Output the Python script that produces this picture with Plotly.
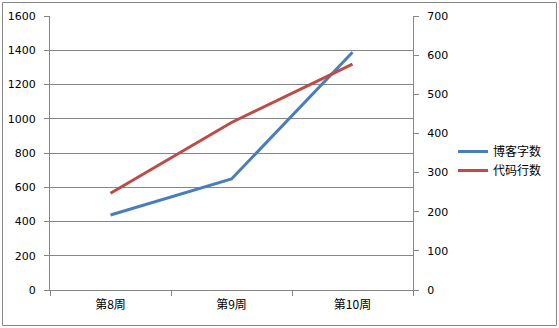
import plotly.graph_objects as go

categories = ["第8周", "第9周", "第10周"]
blog_words = [438, 648, 1388]
code_lines = [247, 428, 577]
left_ticks = [0, 200, 400, 600, 800, 1000, 1200, 1400, 1600]
right_ticks = [0, 100, 200, 300, 400, 500, 600, 700]

W, H = 559, 328
L, R, T, B = 50, 413, 16, 290
ml, mr, mt, mb = L, W - R, T, H - B
pw, ph = R - L, B - T

def px(x):
    return (x - L) / pw

def py(y):
    return (B - y) / ph

fig = go.Figure()
fig.add_trace(go.Scatter(x=categories, y=blog_words, name="博客字数", mode="lines",
                         line=dict(color="#4A7EBB", width=3), yaxis="y"))
fig.add_trace(go.Scatter(x=categories, y=code_lines, name="代码行数", mode="lines",
                         line=dict(color="#BE4B48", width=3), yaxis="y2"))

axis_font = dict(family="DejaVu Sans, Verdana, sans-serif", size=11, color="#000000")
grid = "#868686"

fig.update_layout(
    width=W, height=H,
    margin=dict(l=ml, r=mr, t=mt, b=mb, pad=0, autoexpand=False),
    paper_bgcolor="white", plot_bgcolor="white",
    showlegend=True,
    legend=dict(x=px(453), y=py(161), xanchor="left", yanchor="middle",
                font=dict(family="Noto Sans CJK SC", size=12, color="#000"),
                tracegroupgap=4, itemwidth=30, bgcolor="rgba(0,0,0,0)"),
    xaxis=dict(type="category", range=[-0.5, 2.5], showgrid=False, automargin=False,
               showline=True, linecolor=grid, linewidth=1,
               ticks="outside", tickson="boundaries", ticklen=5, tickcolor=grid,
               ticklabelstandoff=4,
               tickfont=dict(family="Noto Sans CJK SC", size=12, color="#000")),
    yaxis=dict(range=[0, 1600], tickvals=left_ticks, showgrid=True, gridcolor=grid,
               gridwidth=1, showline=True, linecolor=grid, linewidth=1, automargin=False,
               ticks="outside", ticklen=5, tickcolor=grid, tickfont=axis_font,
               ticklabelstandoff=6, zeroline=False),
    yaxis2=dict(range=[0, 700], tickvals=right_ticks, overlaying="y", side="right",
                showgrid=False, showline=True, linecolor=grid, linewidth=1, automargin=False,
                ticks="outside", ticklen=5, tickcolor=grid, tickfont=axis_font,
                ticklabelstandoff=6, zeroline=False),
)

fig.add_shape(type="rect", xref="paper", yref="paper",
              x0=px(2.5), x1=px(556.5), y0=py(325.5), y1=py(2.5),
              line=dict(color="#868686", width=1), fillcolor="rgba(0,0,0,0)", layer="below")

fig.write_html("out.html")
